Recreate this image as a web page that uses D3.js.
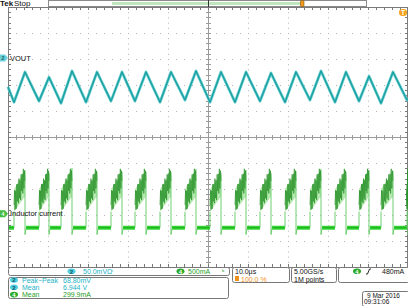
<!DOCTYPE html>
<html>
<head>
<meta charset="utf-8">
<script src="https://cdn.jsdelivr.net/npm/d3@7"></script>
<style>
  body { margin: 0; background: #fff; }
  svg { display: block; }
  text { font-family: "Liberation Sans", Arial, sans-serif; }
</style>
</head>
<body>
<svg id="scope" width="408" height="306"></svg>
<script>
// Time in µs (10 µs/div). CH2 = output ripple in mV around its mean, CH4 = inductor current in mA.
const voutTime = [-50, -48.5, -45.75, -42.25, -39.75, -36.75, -34, -30.5, -27.75, -24.25, -21.5, -18.25,
  -15.5, -12, -9.25, -5.75, -3, 0.5, 3.25, 6.75, 9.5, 13, 15.75, 19.25, 22, 25.5, 28.25, 31.75,
  34.5, 37.75, 40.25, 43.25, 46.25, 49.75, 50];
const voutMv = [0, -29, 29, -27, 19, -31, 31, -29, 29, -27, 29, -27, 29, -29, 29, -25, 31, -29,
  29, -29, 29, -27, 27, -29, 29, -25, 31, -29, 29, -27, 21, -31, 29, -25, -23];

// switch-on / switch-off instants of each current pulse and the top of its ringing
const pulseRise = [-48.5, -42.25, -36.75, -30.5, -24.25, -18.25, -12, -5.75, 0.5, 6.75, 13, 19.25,
  25.5, 31.75, 37.75, 43.25, 49.75];
const pulseFall = [-45.75, -39.75, -34, -27.75, -21.5, -15.5, -9.25, -3, 3.25, 9.5, 15.75, 22,
  28.25, 34.5, 40.25, 46.25, 50];
const pulsePeak = [840, 783, 879, 802, 802, 802, 802, 860, 783, 840, 783, 820, 860, 800, 840, 820, 420];
// ringing seen on the pulse, mA around the ramp
const ringing = [-60, 200, -190, 150, -220, 230, -120, 190, -200, 250, -150, 170, -230, 240,
  -100, 210, -190, 260, -140, 180, -40];
const rampStart = 225, rampEnd = 670;
const envLow = [40, 330], envHigh = [470];
const baseline = -270, undershoot = -400;

const divTicks = [-4, -3, -2, -1, 1, 2, 3, 4];

const svg = d3.select("#scope");
const x = d3.scaleLinear().domain([-50, 50]).range([8, 408]);
const y = d3.scaleLinear().domain([-5, 5]).range([267, 7]);
const voutPos = 1.92, curPos = -2.95;
const yV = mv => y(voutPos + mv / 50);
const yI = ma => y(curPos + ma / 500);

// graticule
const grid = svg.append("g");
grid.selectAll(".vd").data(divTicks).join("line")
  .attr("x1", d => x(d * 10) + 0.5).attr("x2", d => x(d * 10) + 0.5)
  .attr("y1", y(5)).attr("y2", y(-5))
  .attr("stroke", "#b4b4b4").attr("stroke-dasharray", "1 4.2");
grid.selectAll(".hd").data(divTicks).join("line")
  .attr("y1", d => y(d) + 0.5).attr("y2", d => y(d) + 0.5)
  .attr("x1", x(-50)).attr("x2", x(50))
  .attr("stroke", "#b4b4b4").attr("stroke-dasharray", "1 7");

const minorX = d3.range(-50, 50.01, 2);
const minorY = d3.range(-5, 5.01, 0.2);
// centre cross
grid.append("line").attr("x1", x(0) + 0.5).attr("x2", x(0) + 0.5).attr("y1", y(5)).attr("y2", y(-5)).attr("stroke", "#9a9a9a");
grid.append("line").attr("y1", y(0) + 0.5).attr("y2", y(0) + 0.5).attr("x1", x(-50)).attr("x2", x(50)).attr("stroke", "#9a9a9a");
grid.selectAll(".cty").data(minorY).join("line")
  .attr("x1", x(0) - 2).attr("x2", x(0) + 3).attr("y1", d => Math.round(y(d)) + 0.5).attr("y2", d => Math.round(y(d)) + 0.5)
  .attr("stroke", "#9a9a9a");
grid.selectAll(".ctx").data(minorX).join("line")
  .attr("y1", y(0) - 2).attr("y2", y(0) + 3).attr("x1", d => x(d) + 0.5).attr("x2", d => x(d) + 0.5)
  .attr("stroke", "#9a9a9a");
// border with inward ticks
grid.append("path")
  .attr("d", `M${x(-50) + 0.5},${y(-5) + 0.5}V${y(5) + 0.5}H${x(50) - 0.5}V${y(-5) + 0.5}Z`)
  .attr("fill", "none").attr("stroke", "#7a7a7a");
grid.selectAll(".bl").data(minorY).join("line")
  .attr("x1", x(-50)).attr("x2", x(-50) + 3).attr("y1", d => Math.round(y(d)) + 0.5).attr("y2", d => Math.round(y(d)) + 0.5)
  .attr("stroke", "#7a7a7a");
grid.selectAll(".br").data(minorY).join("line")
  .attr("x1", x(50) - 3).attr("x2", x(50)).attr("y1", d => Math.round(y(d)) + 0.5).attr("y2", d => Math.round(y(d)) + 0.5)
  .attr("stroke", "#7a7a7a");
grid.selectAll(".bt").data(minorX).join("line")
  .attr("y1", y(5)).attr("y2", y(5) + 3).attr("x1", d => x(d) + 0.5).attr("x2", d => x(d) + 0.5)
  .attr("stroke", "#7a7a7a");
grid.selectAll(".bb").data(minorX).join("line")
  .attr("y1", y(-5) - 3).attr("y2", y(-5)).attr("x1", d => x(d) + 0.5).attr("x2", d => x(d) + 0.5)
  .attr("stroke", "#7a7a7a");

// CH4 inductor current
const cur = svg.append("g");
const gaps = [[-50, pulseRise[0]]].concat(pulseFall.slice(0, -1).map((f, i) => [f, pulseRise[i + 1]]));
cur.selectAll(".base").data(gaps).join("line")
  .attr("x1", d => x(d[0]) + 1).attr("x2", d => x(d[1]))
  .attr("y1", yI(baseline)).attr("y2", yI(baseline))
  .attr("stroke", "#33d833").attr("stroke-width", 4);
cur.selectAll(".basec").data(gaps).join("line")
  .attr("x1", d => x(d[0]) + 1).attr("x2", d => x(d[1]))
  .attr("y1", yI(baseline)).attr("y2", yI(baseline))
  .attr("stroke", "#169c16").attr("stroke-width", 0.8);

const pulses = pulseRise.map((r, i) => ({ rise: r, fall: pulseFall[i], peak: pulsePeak[i] }));
const env = d3.area().x(d => x(d.t)).y0(d => yI(d.lo)).y1(d => yI(d.hi));
cur.selectAll(".env").data(pulses).join("path")
  .attr("d", p => env([{ t: p.rise, lo: envLow[0], hi: envHigh[0] }, { t: p.fall, lo: envLow[1], hi: p.peak }]))
  .attr("fill", "#b4e8ae");
// edges: rise from baseline, fall with undershoot
const edge = d3.line().x(d => x(d[0])).y(d => yI(d[1]));
cur.selectAll(".edge").data(pulses).join("path")
  .attr("d", p => edge([[p.rise, baseline], [p.rise, envLow[0]]]) +
    edge([[p.fall, p.peak], [p.fall, undershoot], [p.fall + 0.3, baseline]]))
  .attr("fill", "none").attr("stroke", "#6fcf6f").attr("stroke-width", 1);
const ring = d3.line().x(d => x(d.t)).y(d => yI(d.v));
cur.selectAll(".ring").data(pulses).join("path")
  .attr("d", p => ring(ringing.map((o, k) => {
    const f = k / (ringing.length - 1);
    return { t: p.rise + f * (p.fall - p.rise), v: rampStart + f * (rampEnd - rampStart) + o };
  })))
  .attr("fill", "none").attr("stroke", "#2a922a").attr("stroke-width", 0.7);

// CH2 output voltage
const vline = d3.line().x((d, i) => x(voutTime[i])).y(d => yV(d));
svg.append("path").attr("d", vline(voutMv))
  .attr("fill", "none").attr("stroke", "#63cccc").attr("stroke-width", 2.8).attr("stroke-linejoin", "round");
svg.append("path").attr("d", vline(voutMv))
  .attr("fill", "none").attr("stroke", "#1a9fa2").attr("stroke-width", 1.3).attr("stroke-linejoin", "round");

// channel markers and labels
function marker(yc, fill, txt, txtFill) {
  svg.append("path").attr("d", `M0,${yc - 3.5}H5L8,${yc}L5,${yc + 3.5}H0Z`).attr("fill", fill);
  svg.append("text").attr("x", 3).attr("y", yc + 2.3).attr("font-size", 6).attr("font-weight", "bold")
    .attr("text-anchor", "middle").attr("fill", txtFill).text(txt);
}
marker(y(3) - 1, "#6cd2da", "2", "#1b6d73");
marker(yI(0), "#45bb45", "4", "#e8ffe8");
svg.append("text").attr("x", 10).attr("y", y(3) + 1.6).attr("font-size", 7.5).attr("fill", "#111").text("VOUT");
svg.append("text").attr("x", 10).attr("y", yI(0) + 2.6).attr("font-size", 7.5).attr("fill", "#111").text("Inductor current");

// top status bar
svg.append("text").attr("x", 0).attr("y", 6).attr("font-size", 8).attr("font-weight", "bold").attr("fill", "#111").text("Tek");
svg.append("text").attr("x", 14).attr("y", 6).attr("font-size", 8).attr("fill", "#111").text("Stop");
svg.append("rect").attr("x", 48.5).attr("y", 0.5).attr("width", 318).attr("height", 6).attr("fill", "#fff").attr("stroke", "#8a8a8a");
svg.append("rect").attr("x", 112).attr("y", 2).attr("width", 190).attr("height", 3).attr("fill", "#bfe6bf");
svg.append("line").attr("x1", x(0) + 0.5).attr("x2", x(0) + 0.5).attr("y1", 0).attr("y2", 7).attr("stroke", "#333");
svg.append("rect").attr("x", 300.5).attr("y", 0.5).attr("width", 3.5).attr("height", 6).attr("rx", 1).attr("fill", "#f29a1f").attr("stroke", "#8a5200").attr("stroke-width", 0.6);
svg.append("rect").attr("x", 399).attr("y", 9).attr("width", 8).attr("height", 7).attr("rx", 3.5).attr("fill", "#f5a21e");
svg.append("text").attr("x", 403).attr("y", 14.6).attr("font-size", 6.5).attr("font-weight", "bold")
  .attr("text-anchor", "middle").attr("fill", "#fff").text("T");

// bottom readouts
const cyan = "#1db3c6", green = "#1f9e1f", orange = "#f0901a";
function box(x0, y0, w, h) {
  svg.append("rect").attr("x", x0 + 0.5).attr("y", y0 + 0.5).attr("width", w).attr("height", h).attr("rx", 2)
    .attr("fill", "#fff").attr("stroke", "#777");
}
function badge(cx, cy, fill, txt, txtFill) {
  svg.append("ellipse").attr("cx", cx).attr("cy", cy).attr("rx", 4).attr("ry", 2.8).attr("fill", fill);
  svg.append("text").attr("x", cx).attr("y", cy + 2.2).attr("font-size", 6).attr("font-weight", "bold")
    .attr("text-anchor", "middle").attr("fill", txtFill).text(txt);
}
function label(x0, y0, txt, fill, size) {
  svg.append("text").attr("x", x0).attr("y", y0).attr("font-size", size || 7).attr("fill", fill).text(txt);
}
box(8, 267, 221, 8);
badge(71.5, 271.3, "#4fd0e0", "2", "#0d5560");
label(83, 274, "50.0mV\u03a9\u2071", cyan);
badge(180.5, 271.3, "#2aaa2a", "4", "#fff");
label(188, 274, "500mA", green);
label(222, 274, "\u1d47", green, 6);
box(8, 277, 220, 21);
badge(14, 280, "#4fd0e0", "2", "#0d5560");
label(22, 282.5, "Peak\u2212Peak", cyan);
label(63, 282.5, "68.80mV", cyan);
badge(14, 287.3, "#4fd0e0", "2", "#0d5560");
label(22, 289.8, "Mean", cyan);
label(63, 289.8, "6.944 V", cyan);
badge(14, 294.6, "#2aaa2a", "4", "#fff");
label(22, 297, "Mean", green);
label(63, 297, "299.9mA", green);

box(232, 267, 57, 15);
label(235, 274, "10.0\u00b5s", "#111");
svg.append("rect").attr("x", 235).attr("y", 276).attr("width", 4).attr("height", 5).attr("fill", orange);
label(241, 281.5, "100.0 %", orange);
box(291, 267, 45, 15);
label(294, 274, "5.00GS/s", "#111");
label(294, 281.5, "1M points", "#111");
box(338, 267, 71, 15);
badge(357, 271.3, "#2aaa2a", "4", "#fff");
svg.append("path").attr("d", "M366,274H367.5L369.5,269H371").attr("fill", "none").attr("stroke", "#111").attr("stroke-width", 0.9);
label(382, 274, "480mA", "#111");
box(362, 291, 47, 15);
label(367, 297.5, "9 Mar 2016", "#111", 6.5);
label(364, 304, "09:31:06", "#111", 6.5);
</script>
</body>
</html>
